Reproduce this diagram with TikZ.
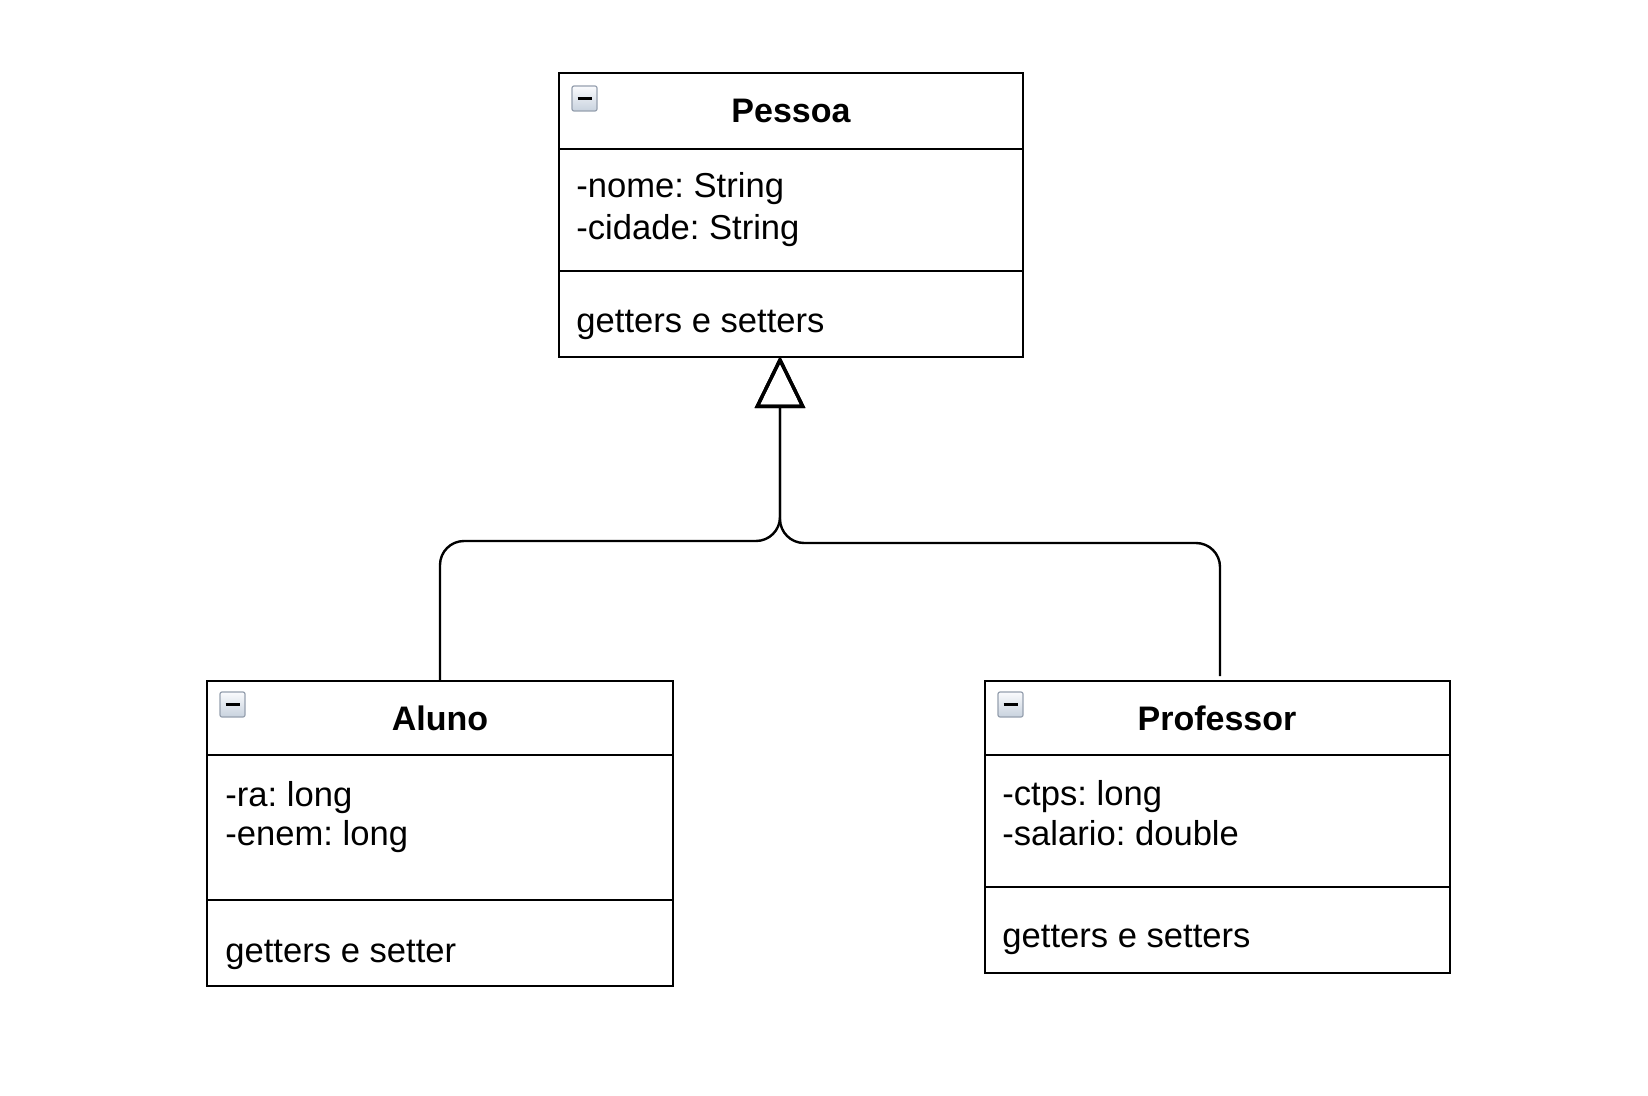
\documentclass[tikz,border=0pt]{standalone}
\usepackage{fontspec}
\setmainfont{Liberation Sans}
\usetikzlibrary{arrows.meta,positioning,calc}

\definecolor{iconedge}{RGB}{150,160,175}
\definecolor{icontop}{RGB}{250,251,253}
\definecolor{iconbot}{RGB}{200,210,222}

\tikzset{
  classbox/.style={draw, line width=1.4pt, fill=white, anchor=north west, inner sep=0pt, outer sep=0pt},
  classname/.style={font=\fontsize{17}{20}\selectfont\bfseries, inner sep=0pt},
  member/.style={font=\fontsize{17.3}{20}\selectfont, anchor=base west, inner sep=0pt},
  sepline/.style={line width=1.4pt},
  heranca/.style={line width=1.2pt, rounded corners=12pt},
  seta/.style={-{Triangle[open, length=26pt, width=25pt, line width=1.7pt]}},
  icon/.style={draw=iconedge, line width=0.6pt, top color=icontop, bottom color=iconbot,
    minimum size=12.5pt, inner sep=0pt, outer sep=0pt, rounded corners=1pt, anchor=north west}
}

\begin{document}
\frenchspacing
\begin{tikzpicture}[x=0.5pt, y=-0.5pt]
    \useasboundingbox (0,0) rectangle (1648,1096);

    % Pessoa
    \node[classbox, minimum width=232pt, minimum height=142pt] (pessoa) at (559,73) {};
    \draw[sepline] (559,149) -- (1023,149);
    \draw[sepline] (559,271) -- (1023,271);
    \node[icon] (pessoa-icon) at (572,86) {};
    \draw[line width=1.6pt] ($(pessoa-icon.center)+(-7,0)$) -- ($(pessoa-icon.center)+(7,0)$);
    \node[classname] (pessoa-title) at (791,111) {Pessoa};
    \node[member] (pessoa-nome) at (576,198) {-nome: String};
    \node[member] (pessoa-cidade) at (576,240) {-cidade: String};
    \node[member] (pessoa-metodos) at (576,333) {getters e setters};

    % Aluno
    \node[classbox, minimum width=233pt, minimum height=152.5pt] (aluno) at (207,681) {};
    \draw[sepline] (207,755) -- (673,755);
    \draw[sepline] (207,900) -- (673,900);
    \node[icon] (aluno-icon) at (220,692) {};
    \draw[line width=1.6pt] ($(aluno-icon.center)+(-7,0)$) -- ($(aluno-icon.center)+(7,0)$);
    \node[classname] (aluno-title) at (440,718) {Aluno};
    \node[member] (aluno-ra) at (225,806) {-ra: long};
    \node[member] (aluno-enem) at (225,845) {-enem: long};
    \node[member] (aluno-metodos) at (225,962) {getters e setter};

    % Professor
    \node[classbox, minimum width=232.5pt, minimum height=146pt] (professor) at (985,681) {};
    \draw[sepline] (985,755) -- (1450,755);
    \draw[sepline] (985,887) -- (1450,887);
    \node[icon] (professor-icon) at (998,692) {};
    \draw[line width=1.6pt] ($(professor-icon.center)+(-7,0)$) -- ($(professor-icon.center)+(7,0)$);
    \node[classname] (professor-title) at (1217,718) {Professor};
    \node[member] (professor-ctps) at (1002,805) {-ctps: long};
    \node[member] (professor-salario) at (1002,845) {-salario: double};
    \node[member] (professor-metodos) at (1002,947) {getters e setters};

    % heranca
    \coordinate (tip) at (780,356);
    \coordinate (prof-end) at (1220,676);
    \draw[heranca, seta] (aluno.north) |- (780,541) -- (tip);
    \draw[heranca, seta] (prof-end) |- (780,543) -- (tip);
\end{tikzpicture}
\end{document}
